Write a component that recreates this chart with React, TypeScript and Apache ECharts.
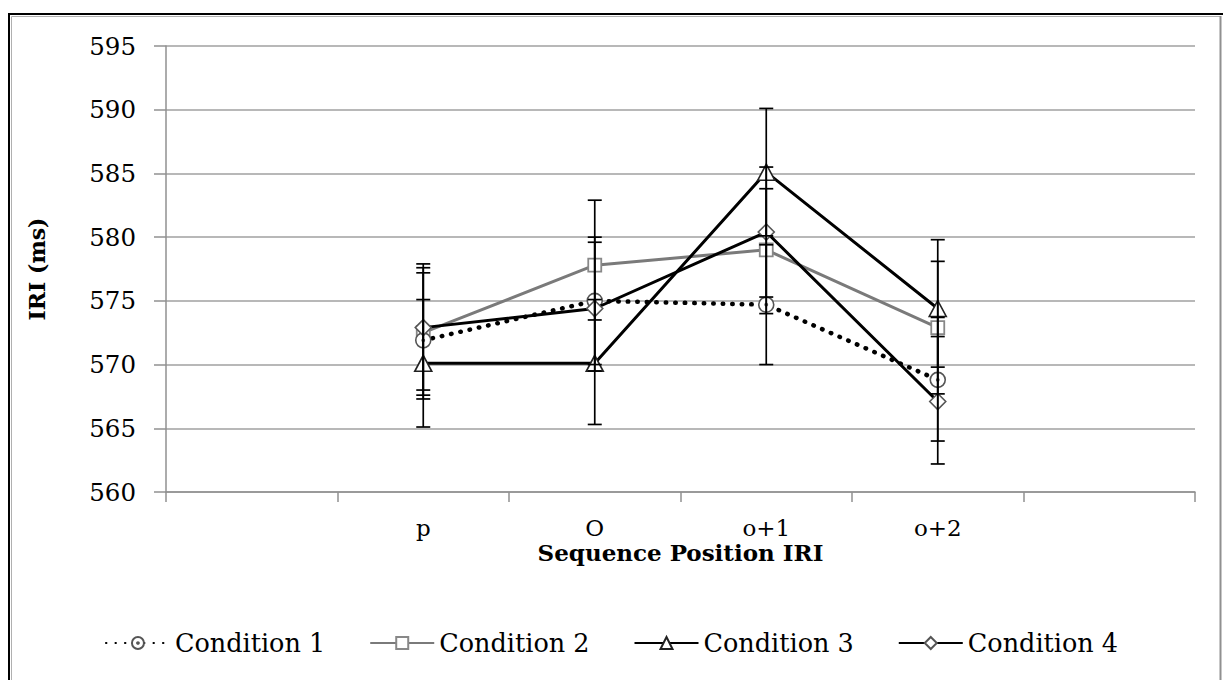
import React, { useEffect, useRef } from "react";
import * as echarts from "echarts";

const categories = ["", "p", "O", "o+1", "o+2", ""];
const seriesNames = ["Condition 1", "Condition 2", "Condition 3", "Condition 4"];

const cond1 = [null, 571.9, 575.0, 574.7, 568.8, null];
const cond2 = [null, 572.5, 577.8, 579.0, 572.9, null];
const cond3 = [null, 570.1, 570.1, 585.1, 574.4, null];
const cond4 = [null, 572.9, 574.4, 580.4, 567.1, null];

const cond1Low = [null, 567.3, 570.0, 570.0, 564.0, null];
const cond1High = [null, 577.2, 580.0, 579.4, 573.7, null];
const cond2Low = [null, 567.6, 573.5, 574.0, 567.7, null];
const cond2High = [null, 577.6, 582.9, 583.8, 578.1, null];
const cond3Low = [null, 565.1, 565.3, 580.1, 569.8, null];
const cond3High = [null, 575.1, 575.1, 590.1, 579.8, null];
const cond4Low = [null, 568.0, 569.5, 575.3, 562.2, null];
const cond4High = [null, 577.9, 579.6, 585.5, 572.2, null];

const yTicks = { min: 560, max: 595, interval: 5 };

const FONT = "'DejaVu Serif', serif";

const circleDot =
  "path://M0,-7A7,7 0 1,1 0,7A7,7 0 1,1 0,-7Z M0,-1A1,1 0 1,1 0,1A1,1 0 1,1 0,-1Z";

function errData(low: (number | null)[], high: (number | null)[]) {
  const out: any[] = [];
  low.forEach((l, i) => {
    if (l != null && high[i] != null) out.push([i, l, high[i]]);
  });
  return out;
}

export default function App() {
  const ref = useRef<HTMLDivElement>(null);
  useEffect(() => {
    if (!ref.current) return;
    const chart = echarts.init(ref.current, null, { renderer: "svg" });

    const renderErr = (params: any, api: any) => {
      const x = api.value(0);
      const lo = api.coord([x, api.value(1)]);
      const hi = api.coord([x, api.value(2)]);
      const half = 7;
      const style = { stroke: "#000", lineWidth: 1.7 };
      return {
        type: "group",
        children: [
          { type: "line", shape: { x1: lo[0], y1: lo[1], x2: hi[0], y2: hi[1] }, style },
          { type: "line", shape: { x1: lo[0] - half, y1: lo[1], x2: lo[0] + half, y2: lo[1] }, style },
          { type: "line", shape: { x1: hi[0] - half, y1: hi[1], x2: hi[0] + half, y2: hi[1] }, style },
        ],
      };
    };

    const lows = [cond1Low, cond2Low, cond3Low, cond4Low];
    const highs = [cond1High, cond2High, cond3High, cond4High];
    const errSeries = lows.map((l, k) => ({
      type: "custom",
      name: seriesNames[k] + " err",
      renderItem: renderErr,
      data: errData(l, highs[k]),
      z: 5,
      silent: true,
    }));

    const option: any = {
      animation: false,
      backgroundColor: "#fff",
      grid: { left: 166, right: 28, top: 46, bottom: 188, containLabel: false },
      graphic: [
        { type: "line", shape: { x1: 8, y1: 14, x2: 1223, y2: 14 }, style: { stroke: "#000", lineWidth: 2 } },
        { type: "line", shape: { x1: 9, y1: 13, x2: 9, y2: 680 }, style: { stroke: "#000", lineWidth: 2 } },
        { type: "line", shape: { x1: 11.5, y1: 16.5, x2: 1220.5, y2: 16.5 }, style: { stroke: "#b0b0b0", lineWidth: 1 } },
        { type: "line", shape: { x1: 11.5, y1: 16.5, x2: 11.5, y2: 680 }, style: { stroke: "#b0b0b0", lineWidth: 1 } },
        { type: "line", shape: { x1: 1220.5, y1: 16, x2: 1220.5, y2: 680 }, style: { stroke: "#909090", lineWidth: 2 } },
      ],
      xAxis: {
        type: "category",
        data: categories,
        boundaryGap: true,
        name: "Sequence Position IRI",
        nameLocation: "middle",
        nameGap: 49,
        nameMoveOverlap: false,
        nameTextStyle: { fontFamily: FONT, fontWeight: "bold", fontSize: 23, color: "#000" },
        axisLine: { lineStyle: { color: "#909090", width: 1.5 } },
        axisTick: { show: true, length: 10, lineStyle: { color: "#909090", width: 1.5 } },
        axisLabel: { fontFamily: FONT, fontSize: 23, color: "#000", margin: 24, interval: 0 },
        splitLine: { show: false },
      },
      yAxis: {
        type: "value",
        min: yTicks.min,
        max: yTicks.max,
        interval: yTicks.interval,
        name: "IRI (ms)",
        nameLocation: "middle",
        nameGap: 118,
        nameMoveOverlap: false,
        nameRotate: 90,
        nameTextStyle: { fontFamily: FONT, fontWeight: "bold", fontSize: 22, color: "#000" },
        axisLine: { show: true, lineStyle: { color: "#909090", width: 1.5 } },
        axisTick: { show: true, length: 12, lineStyle: { color: "#909090", width: 1.5 } },
        axisLabel: { fontFamily: FONT, fontSize: 24.5, color: "#000", margin: 30 },
        splitLine: { show: true, lineStyle: { color: "#a0a0a0", width: 1.5 } },
      },
      legend: {
        data: seriesNames,
        bottom: 19,
        left: "center",
        itemWidth: 64,
        itemHeight: 15,
        itemGap: 44,
        textStyle: { fontFamily: FONT, fontSize: 25.5, color: "#000" },
      },
      series: [
        {
          type: "line",
          name: seriesNames[0],
          data: cond1,
          symbol: circleDot,
          symbolSize: 15,
          lineStyle: { color: "#000", width: 4.5, type: [0.5, 9], cap: "round" },
          itemStyle: { color: "#fff", borderColor: "#555", borderWidth: 1.6 },
          z: 3,
        },
        {
          type: "line",
          name: seriesNames[1],
          data: cond2,
          symbol: "rect",
          symbolSize: 13,
          lineStyle: { color: "#7a7a7a", width: 3 },
          itemStyle: { color: "#fff", borderColor: "#888", borderWidth: 1.8 },
          z: 2,
        },
        {
          type: "line",
          name: seriesNames[2],
          data: cond3,
          symbol: "triangle",
          symbolSize: [17, 16],
          lineStyle: { color: "#000", width: 3 },
          itemStyle: { color: "#fff", borderColor: "#222", borderWidth: 1.6 },
          z: 4,
        },
        {
          type: "line",
          name: seriesNames[3],
          data: cond4,
          symbol: "diamond",
          symbolSize: 16,
          lineStyle: { color: "#000", width: 3 },
          itemStyle: { color: "#fff", borderColor: "#555", borderWidth: 1.6 },
          z: 4,
        },
        ...errSeries,
      ],
    };
    chart.setOption(option);
    return () => chart.dispose();
  }, []);
  return (
    <div
      ref={ref}
      style={{ position: "absolute", left: 0, top: 0, width: 1223, height: 680 }}
    />
  );
}
